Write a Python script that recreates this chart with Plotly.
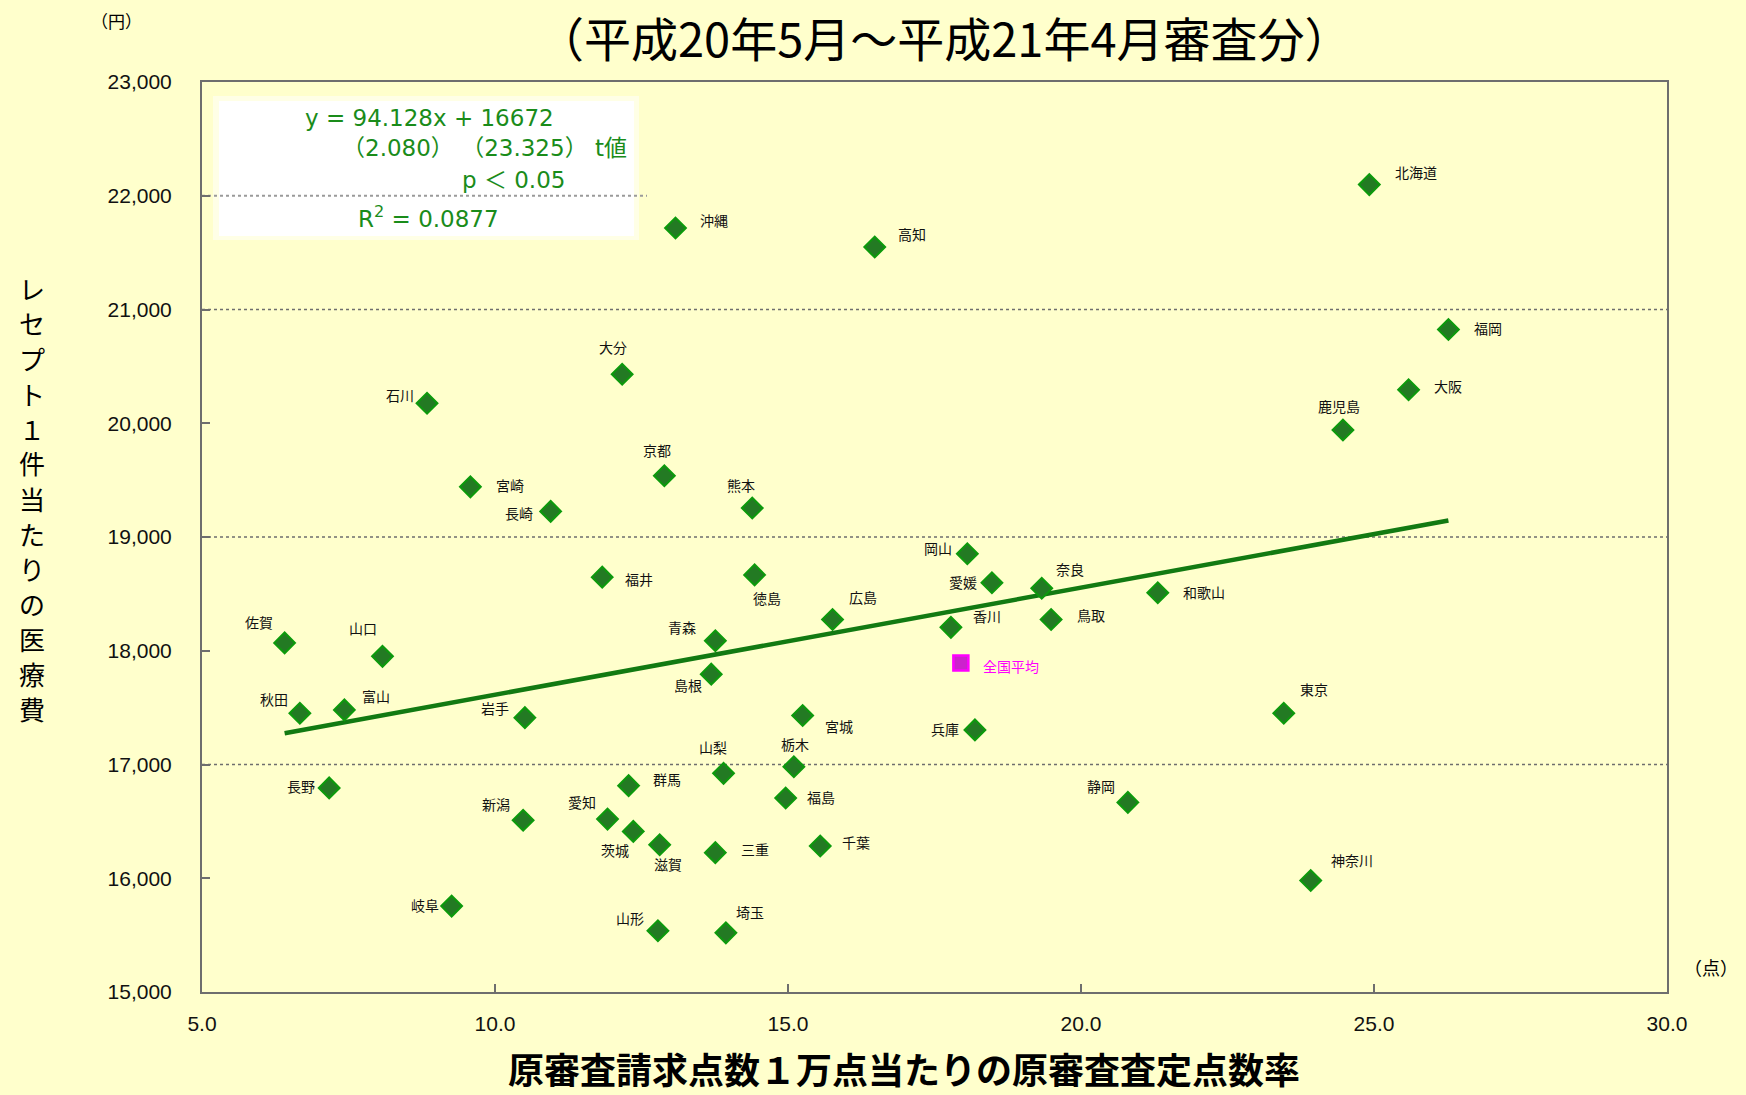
import plotly.graph_objects as go

# ---------------- data ----------------
prefectures = ["北海道", "沖縄", "高知", "福岡", "大阪", "鹿児島", "大分", "石川", "京都", "宮崎",
               "長崎", "熊本", "岡山", "愛媛", "奈良", "和歌山", "福井", "徳島", "広島", "香川",
               "鳥取", "佐賀", "山口", "青森", "島根", "秋田", "富山", "岩手", "宮城", "兵庫",
               "東京", "栃木", "山梨", "群馬", "長野", "福島", "静岡", "新潟", "愛知", "茨城",
               "滋賀", "三重", "千葉", "神奈川", "岐阜", "山形", "埼玉"]
rate = [24.92, 13.08, 16.48, 26.27, 25.59, 24.47, 12.17, 8.84, 12.89, 9.58,
        10.95, 14.39, 18.06, 18.48, 19.33, 21.31, 11.83, 14.43, 15.76, 17.78,
        19.49, 6.41, 8.08, 13.76, 13.69, 6.67, 7.43, 10.51, 15.25, 18.19,
        23.46, 15.10, 13.90, 12.28, 7.17, 14.96, 20.80, 10.48, 11.92, 12.36,
        12.81, 13.76, 15.55, 23.92, 9.26, 12.78, 13.94]
cost = [22098, 21716, 21549, 20824, 20294, 19941, 20431, 20176, 19539, 19441,
        19225, 19255, 18853, 18598, 18549, 18510, 18647, 18667, 18275, 18206,
        18275, 18069, 17951, 18088, 17794, 17451, 17480, 17412, 17431, 17304,
        17451, 16980, 16922, 16814, 16794, 16706, 16667, 16510, 16520, 16412,
        16294, 16225, 16284, 15980, 15755, 15539, 15520]

national_label = "全国平均"
national_rate = [17.95]
national_cost = [17892]

slope = 94.128
intercept = 16672

x_ticks = [5.0, 10.0, 15.0, 20.0, 25.0, 30.0]
y_ticks = [15000, 16000, 17000, 18000, 19000, 20000, 21000, 22000, 23000]
grid_levels = [17000, 19000, 21000]

# label offsets (pixels, dx right, dy down) -- layout only
label_offsets = {
    "北海道": (47, -13), "沖縄": (39, -8), "高知": (37, -13), "福岡": (40, -2), "大阪": (39, -4),
    "鹿児島": (-4, -24), "大分": (-9, -27), "石川": (-27, -8), "京都": (-7, -26), "宮崎": (40, -2),
    "長崎": (-32, 2), "熊本": (-11, -23), "岡山": (-29, -6), "愛媛": (-29, -1), "奈良": (28, -19),
    "和歌山": (46, -1), "福井": (37, 2), "徳島": (12, 23), "広島": (30, -22), "香川": (36, -11),
    "鳥取": (40, -4), "佐賀": (-26, -21), "山口": (-19, -28), "青森": (-33, -14), "島根": (-23, 11),
    "秋田": (-26, -14), "富山": (32, -14), "岩手": (-30, -10), "宮城": (36, 11), "兵庫": (-30, -1),
    "東京": (30, -24), "栃木": (1, -23), "山梨": (-11, -26), "群馬": (38, -7), "長野": (-28, -2),
    "福島": (35, -1), "静岡": (-27, -16), "新潟": (-27, -16), "愛知": (-26, -17), "茨城": (-18, 19),
    "滋賀": (8, 19), "三重": (40, -4), "千葉": (36, -4), "神奈川": (41, -21), "岐阜": (-27, -1),
    "山形": (-28, -13), "埼玉": (24, -21),
}

# ---------------- figure ----------------
W, H = 1746, 1095
L, R, T, B = 202, 79, 82, 103
BG = "#FFFFCC"
JP = "Noto Sans CJK JP"
LAT = "Liberation Sans, Arial, Noto Sans CJK JP"
EQF = "DejaVu Sans, Noto Sans CJK JP"

fig = go.Figure()

# trend line
x0, x1 = min(rate), max(rate)
fig.add_trace(go.Scatter(
    x=[x0, x1], y=[slope * x0 + intercept, slope * x1 + intercept],
    mode="lines", line=dict(color="#127a12", width=4.5), hoverinfo="skip", showlegend=False))

# prefectures
fig.add_trace(go.Scatter(
    x=rate, y=cost, mode="markers", hovertext=prefectures, hoverinfo="text+x+y",
    marker=dict(symbol="diamond", size=16, color="#237a23",
                line=dict(color="#0c9a0c", width=2)),
    showlegend=False))

# national average
fig.add_trace(go.Scatter(
    x=national_rate, y=national_cost, mode="markers",
    marker=dict(symbol="square", size=15, color="#cc22cc",
                line=dict(color="#ff00ff", width=2.5)),
    showlegend=False))

annotations = []
for name, xv, yv in zip(prefectures, rate, cost):
    dx, dy = label_offsets[name]
    annotations.append(dict(x=xv, y=yv, xref="x", yref="y", text=name, showarrow=False,
                            xshift=dx, yshift=-dy, xanchor="center", yanchor="middle",
                            font=dict(family=JP, size=14, color="#111111")))
annotations.append(dict(x=national_rate[0], y=national_cost[0], xref="x", yref="y",
                        text=national_label, showarrow=False, xshift=50, yshift=-3,
                        font=dict(family=JP, size=14, color="#ff00ff")))

# helpers for pixel placement (paper coords)
def px(xp):
    return (xp - L) / (W - L - R)

def py(yp):
    return (H - B - yp) / (H - T - B)

# equation box text
eq_color = "#1a8c1a"
eq_lines = [
    ("y = 94.128x + 16672", 429, 118),
    ("（2.080） （23.325） t値", 484, 148),
    ("p ＜ 0.05", 513, 180),
    ("R<sup>2</sup> = 0.0877", 428, 217),
]
for txt, xp, yp in eq_lines:
    annotations.append(dict(x=px(xp), y=py(yp), xref="paper", yref="paper", text=txt,
                            showarrow=False, xanchor="center", yanchor="middle",
                            font=dict(family=EQF, size=23, color=eq_color)))

# title
annotations.append(dict(x=px(944), y=py(1), xref="paper", yref="paper",
                        text="（平成20年5月～平成21年4月審査分）", showarrow=False,
                        xanchor="center", yanchor="top", borderpad=0,
                        font=dict(family=JP, size=47, color="#000000")))
# units
annotations.append(dict(x=px(116), y=py(20), xref="paper", yref="paper", text="（円）",
                        showarrow=False, xanchor="center", yanchor="middle",
                        font=dict(family=JP, size=17, color="#000000")))
annotations.append(dict(x=px(1711), y=py(967), xref="paper", yref="paper", text="（点）",
                        showarrow=False, xanchor="center", yanchor="middle",
                        font=dict(family=JP, size=18, color="#000000")))
# x axis title
annotations.append(dict(x=px(904), y=py(1095), xref="paper", yref="paper",
                        text="原審査請求点数１万点当たりの原審査査定点数率", showarrow=False,
                        xanchor="center", yanchor="bottom", borderpad=0,
                        font=dict(family=JP, size=36, color="#000000", weight="bold")))
# y axis title (vertical, one char per annotation)
ytitle = "レセプト１件当たりの医療費"
for i, ch in enumerate(ytitle):
    annotations.append(dict(x=px(32), y=py(288 + i * 35), xref="paper", yref="paper",
                            text=ch, showarrow=False, xanchor="center", yanchor="middle",
                            borderpad=0, font=dict(family=JP, size=26, color="#000000")))

shapes = []
# equation box (soft edge + white core)
shapes.append(dict(type="rect", xref="paper", yref="paper", layer="below",
                   x0=px(213), x1=px(639), y0=py(96), y1=py(240),
                   fillcolor="rgba(255,255,255,0.5)", line=dict(width=0)))
shapes.append(dict(type="rect", xref="paper", yref="paper", layer="below",
                   x0=px(219), x1=px(634), y0=py(101), y1=py(236),
                   fillcolor="#ffffff", line=dict(width=0)))
# grid lines
for g in grid_levels:
    shapes.append(dict(type="line", xref="paper", yref="y", x0=0, x1=1, y0=g, y1=g,
                       layer="below", line=dict(color="#6e6e6e", width=1.5, dash="dot")))
shapes.append(dict(type="line", xref="paper", yref="y", x0=0, x1=px(647), y0=22000, y1=22000,
                   layer="below", line=dict(color="#9a9a9a", width=2, dash="dot")))

fig.update_layout(
    width=W, height=H, autosize=False,
    margin=dict(l=L, r=R, t=T, b=B),
    paper_bgcolor=BG, plot_bgcolor=BG,
    annotations=annotations, shapes=shapes,
    showlegend=False,
)
fig.update_xaxes(range=[5, 30], tickvals=x_ticks, ticktext=[f"{v:.1f}" for v in x_ticks],
                 ticks="inside", ticklen=8, tickwidth=1.5, tickcolor="#6e6e6e",
                 showline=True, linecolor="#6e6e6e", linewidth=2, mirror=True,
                 showgrid=False, zeroline=False, ticklabelstandoff=12,
                 tickfont=dict(family=LAT, size=21, color="#111111"))
fig.update_yaxes(range=[15000, 23000], tickvals=y_ticks, ticktext=[f"{v:,}" for v in y_ticks],
                 ticks="inside", ticklen=8, tickwidth=1.5, tickcolor="#6e6e6e",
                 showline=True, linecolor="#6e6e6e", linewidth=2, mirror=True,
                 showgrid=False, zeroline=False, ticklabelstandoff=24,
                 tickfont=dict(family=LAT, size=21, color="#111111"))

fig.write_html("out.html", config={"displayModeBar": False},
               post_script="document.body.style.margin='0';document.body.style.background='" + BG + "';")
